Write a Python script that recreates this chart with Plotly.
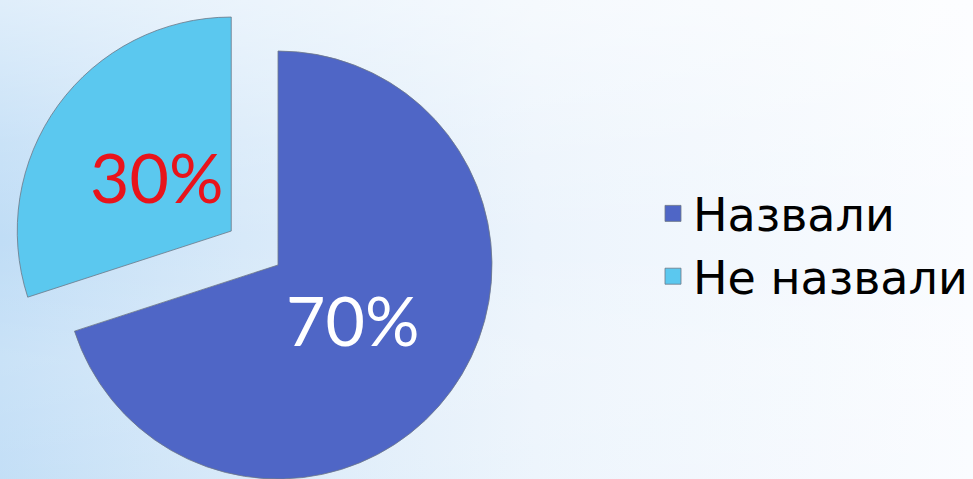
import math
import base64
import plotly.graph_objects as go

# ---- data ----
labels = ["Назвали", "Не назвали"]
values = [70, 30]
colors = ["#4F66C6", "#5BC8EF"]
text_colors = ["#FFFFFF", "#E8141B"]

# ---- geometry / style ----
W, H = 973, 479
CX, CY, R = 278, 265, 214
PULL = 0.27            # pull of the second slice (fraction of radius)
TEXT_R = 0.43          # radial position of the percentage labels
LABEL_FONT = "Lato, Roboto, sans-serif"
LEGEND_FONT = "DejaVu Sans, sans-serif"

total = sum(values)
mids = []
acc = 0.0
for v in values:
    mids.append(acc + v / total * 180.0)
    acc += v / total * 360.0

def domain_for(cx, cy, r):
    return dict(x=[(cx - r) / W, (cx + r) / W],
                y=[max(0.0, 1 - (cy + r) / H), min(1.0, 1 - (cy - r) / H)])

centers = []
pulls = [0.0, PULL]
for i, p in enumerate(pulls):
    a = math.radians(mids[i])
    centers.append((CX + p * R * math.sin(a), CY - p * R * math.cos(a)))

# background as svg gradient
svg = f'''<svg xmlns="http://www.w3.org/2000/svg" width="{W}" height="{H}" viewBox="0 0 {W} {H}" preserveAspectRatio="none">
<defs>
<linearGradient id="h" x1="0" y1="0" x2="1" y2="0">
<stop offset="0" stop-color="#c0ddf6"/>
<stop offset="0.25" stop-color="#d7e9f9"/>
<stop offset="0.55" stop-color="#ecf4fc"/>
<stop offset="1" stop-color="#fafcff"/>
</linearGradient>
<linearGradient id="v" x1="0" y1="0" x2="0" y2="1">
<stop offset="0" stop-color="#ffffff" stop-opacity="0.5"/>
<stop offset="0.3" stop-color="#ffffff" stop-opacity="0.15"/>
<stop offset="0.5" stop-color="#ffffff" stop-opacity="0"/>
<stop offset="0.75" stop-color="#ffffff" stop-opacity="0.15"/>
<stop offset="1" stop-color="#ffffff" stop-opacity="0.05"/>
</linearGradient>
</defs>
<rect width="{W}" height="{H}" fill="url(#h)"/>
<rect width="{W}" height="{H}" fill="url(#v)"/>
</svg>'''
bg_src = "data:image/svg+xml;base64," + base64.b64encode(svg.encode()).decode()

fig = go.Figure()

for i in range(len(values)):
    cx, cy = centers[i]
    slice_colors = [colors[j] if j == i else "rgba(0,0,0,0)" for j in range(len(values))]
    line_colors = ["rgba(110,120,135,0.8)" if j == i else "rgba(0,0,0,0)" for j in range(len(values))]
    fig.add_trace(go.Pie(
        labels=labels, values=values, sort=False, direction="clockwise", rotation=0,
        marker=dict(colors=slice_colors, line=dict(color=line_colors, width=1)),
        textinfo="none", hoverinfo="label+percent", showlegend=False,
        domain=domain_for(cx, cy, R),
    ))

# legend entries
for lab, col in zip(labels, colors):
    fig.add_trace(go.Scatter(
        x=[None], y=[None], mode="markers", name=lab,
        marker=dict(symbol="square", size=20, color=col,
                    line=dict(color="rgba(110,120,135,0.8)", width=1)),
    ))

# percentage labels
for i, v in enumerate(values):
    cx, cy = centers[i]
    a = math.radians(mids[i])
    px = cx + TEXT_R * R * math.sin(a)
    py = cy - TEXT_R * R * math.cos(a)
    fig.add_annotation(
        x=px / W, y=1 - py / H, xref="paper", yref="paper",
        text=f"{round(v / total * 100)}%", showarrow=False,
        font=dict(family=LABEL_FONT, size=68, color=text_colors[i]),
        xanchor="center", yanchor="middle",
    )

fig.update_layout(
    width=W, height=H,
    margin=dict(l=0, r=0, t=0, b=0, autoexpand=False),
    paper_bgcolor="#ffffff", plot_bgcolor="rgba(0,0,0,0)",
    xaxis=dict(visible=False), yaxis=dict(visible=False),
    images=[dict(source=bg_src, xref="paper", yref="paper", x=0, y=1,
                 sizex=1, sizey=1, sizing="stretch", layer="below", xanchor="left", yanchor="top")],
    legend=dict(x=653 / W, y=1 - 245 / H, xanchor="left", yanchor="middle",
                font=dict(family=LEGEND_FONT, size=46, color="#000000"),
                bgcolor="rgba(0,0,0,0)", itemsizing="trace"),
    showlegend=True,
)

fig.write_html("out.html", config={"displayModeBar": False},
               post_script="document.body.style.margin='0';")
